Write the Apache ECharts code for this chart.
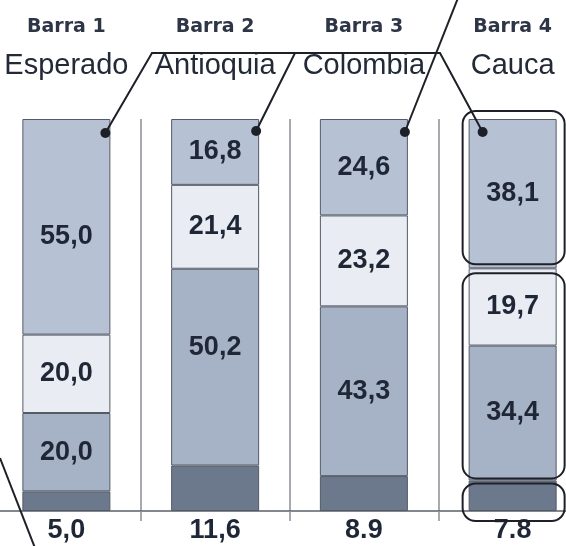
<!DOCTYPE html>
<html>
<head>
<meta charset="utf-8">
<script src="https://cdn.jsdelivr.net/npm/echarts@6/dist/echarts.min.js"></script>
<style>
  html, body { margin: 0; padding: 0; background: #fff; }
  #chart { width: 566px; height: 546px; }
</style>
</head>
<body>
<div id="chart"></div>
<script>
const barNames = ['Barra 1', 'Barra 2', 'Barra 3', 'Barra 4'];
const regions = ['Esperado', 'Antioquia', 'Colombia', 'Cauca'];
// stacked segments, bottom to top (percent)
const bottomValues = [5.0, 11.6, 8.9, 7.8];
const middleValues = [20.0, 50.2, 43.3, 34.4];
const lightValues = [20.0, 21.4, 23.2, 19.7];
const topValues = [55.0, 16.8, 24.6, 38.1];
const bottomLabels = ['5,0', '11,6', '8.9', '7.8'];

const numFont = '"Liberation Sans", Arial, sans-serif';
const textColor = '#1f2636';
const comma = v => v.toFixed(1).replace('.', ',');

// small vertical nudges of the inner labels, as printed
const labelShift = {
  top: [10, 0, 0, 0],
  middle: [0, -20, 0, 0],
};

const chart = echarts.init(document.getElementById('chart'));

function segment(name, values, color, label, shift) {
  return {
    name,
    type: 'bar',
    stack: 'total',
    barWidth: 88,
    silent: true,
    itemStyle: { color, borderColor: '#555b66', borderWidth: 1 },
    label,
    data: values.map((v, i) => ({
      value: v,
      label: shift ? { offset: [0, shift[i]] } : undefined,
    })),
  };
}

const innerLabel = {
  show: true,
  position: 'inside',
  fontFamily: numFont,
  fontWeight: 'bold',
  fontSize: 27,
  color: textColor,
  formatter: p => comma(p.value),
};

chart.setOption({
  animation: false,
  grid: { left: -8, right: -21, top: 119, bottom: 35, outerBoundsMode: 'none' },
  xAxis: [
    {
      type: 'category',
      data: regions,
      axisLabel: { show: false },
      axisLine: { lineStyle: { color: '#5a5f68', width: 1.5 } },
      axisTick: { show: true, length: 10, interval: 0, lineStyle: { color: '#8a8f96', width: 1.5 } },
      splitLine: { show: true, interval: 0, lineStyle: { color: '#8a8f96', width: 1.5 } },
    },
    {
      type: 'category',
      position: 'top',
      data: regions,
      axisLine: { show: false },
      axisTick: { show: false },
      axisLabel: {
        margin: 36,
        interval: 0,
        formatter: (v, i) => '{b|' + barNames[i] + '}\n{r|' + v + '}',
        rich: {
          b: { fontFamily: '"DejaVu Sans", sans-serif', fontWeight: 'bold', fontSize: 19, color: '#2d3546', lineHeight: 44 },
          r: { fontFamily: '"Liberation Sans", Arial, sans-serif', fontSize: 29, color: '#222a38', lineHeight: 34 },
        },
      },
    },
  ],
  yAxis: { type: 'value', min: 0, max: 100, show: false },
  series: [
    segment('bottom', bottomValues, '#6c798c', {
      show: true,
      position: 'bottom',
      distance: 6,
      fontFamily: numFont,
      fontWeight: 'bold',
      fontSize: 27,
      color: textColor,
      formatter: p => bottomLabels[p.dataIndex],
    }),
    segment('middle', middleValues, '#a6b2c5', innerLabel, labelShift.middle),
    segment('light', lightValues, '#e9edf3', innerLabel),
    segment('top', topValues, '#b6c2d4', innerLabel, labelShift.top),
  ],
});

// annotation leaders and the rounded boxes around Cauca
const px = (i, v) => chart.convertToPixel({ seriesIndex: 0 }, [i, v]);
const dotOffsets = [[39, 14], [41, 12], [41, 13], [-30, 13]];
const dots = dotOffsets.map((o, i) => {
  const p = px(i, 100);
  return [p[0] + o[0], p[1] + o[1]];
});

const ink = { stroke: '#1e2028', lineWidth: 2, fill: null };
const graphics = [];
dots.forEach(d => {
  graphics.push({ type: 'circle', z: 100, shape: { cx: d[0], cy: d[1], r: 5 }, style: { fill: '#1e2028' } });
});
graphics.push({ type: 'polyline', z: 100, shape: { points: [dots[0], [152, 53], [440, 53], dots[3]] }, style: ink });
graphics.push({ type: 'polyline', z: 100, shape: { points: [dots[1], [295, 53]] }, style: ink });
graphics.push({ type: 'polyline', z: 100, shape: { points: [dots[2], [458, -2]] }, style: ink });
graphics.push({ type: 'polyline', z: 100, shape: { points: [[0, 458], [35, 548]] }, style: ink });

const c4 = px(3, 0)[0];
const y = v => px(3, v)[1];
const cut1 = bottomValues[3];
const cut2 = bottomValues[3] + middleValues[3] + lightValues[3];
const boxes = [
  [y(100) - 8, y(cut2) - 4],
  [y(cut2) + 5, y(cut1) - 2],
  [y(cut1) + 3, y(0) + 10],
];
boxes.forEach(b => {
  graphics.push({
    type: 'rect',
    z: 100,
    shape: { x: c4 - 50, y: b[0], width: 102, height: b[1] - b[0], r: 13 },
    style: ink,
  });
});
chart.setOption({ graphic: graphics });
</script>
</body>
</html>
